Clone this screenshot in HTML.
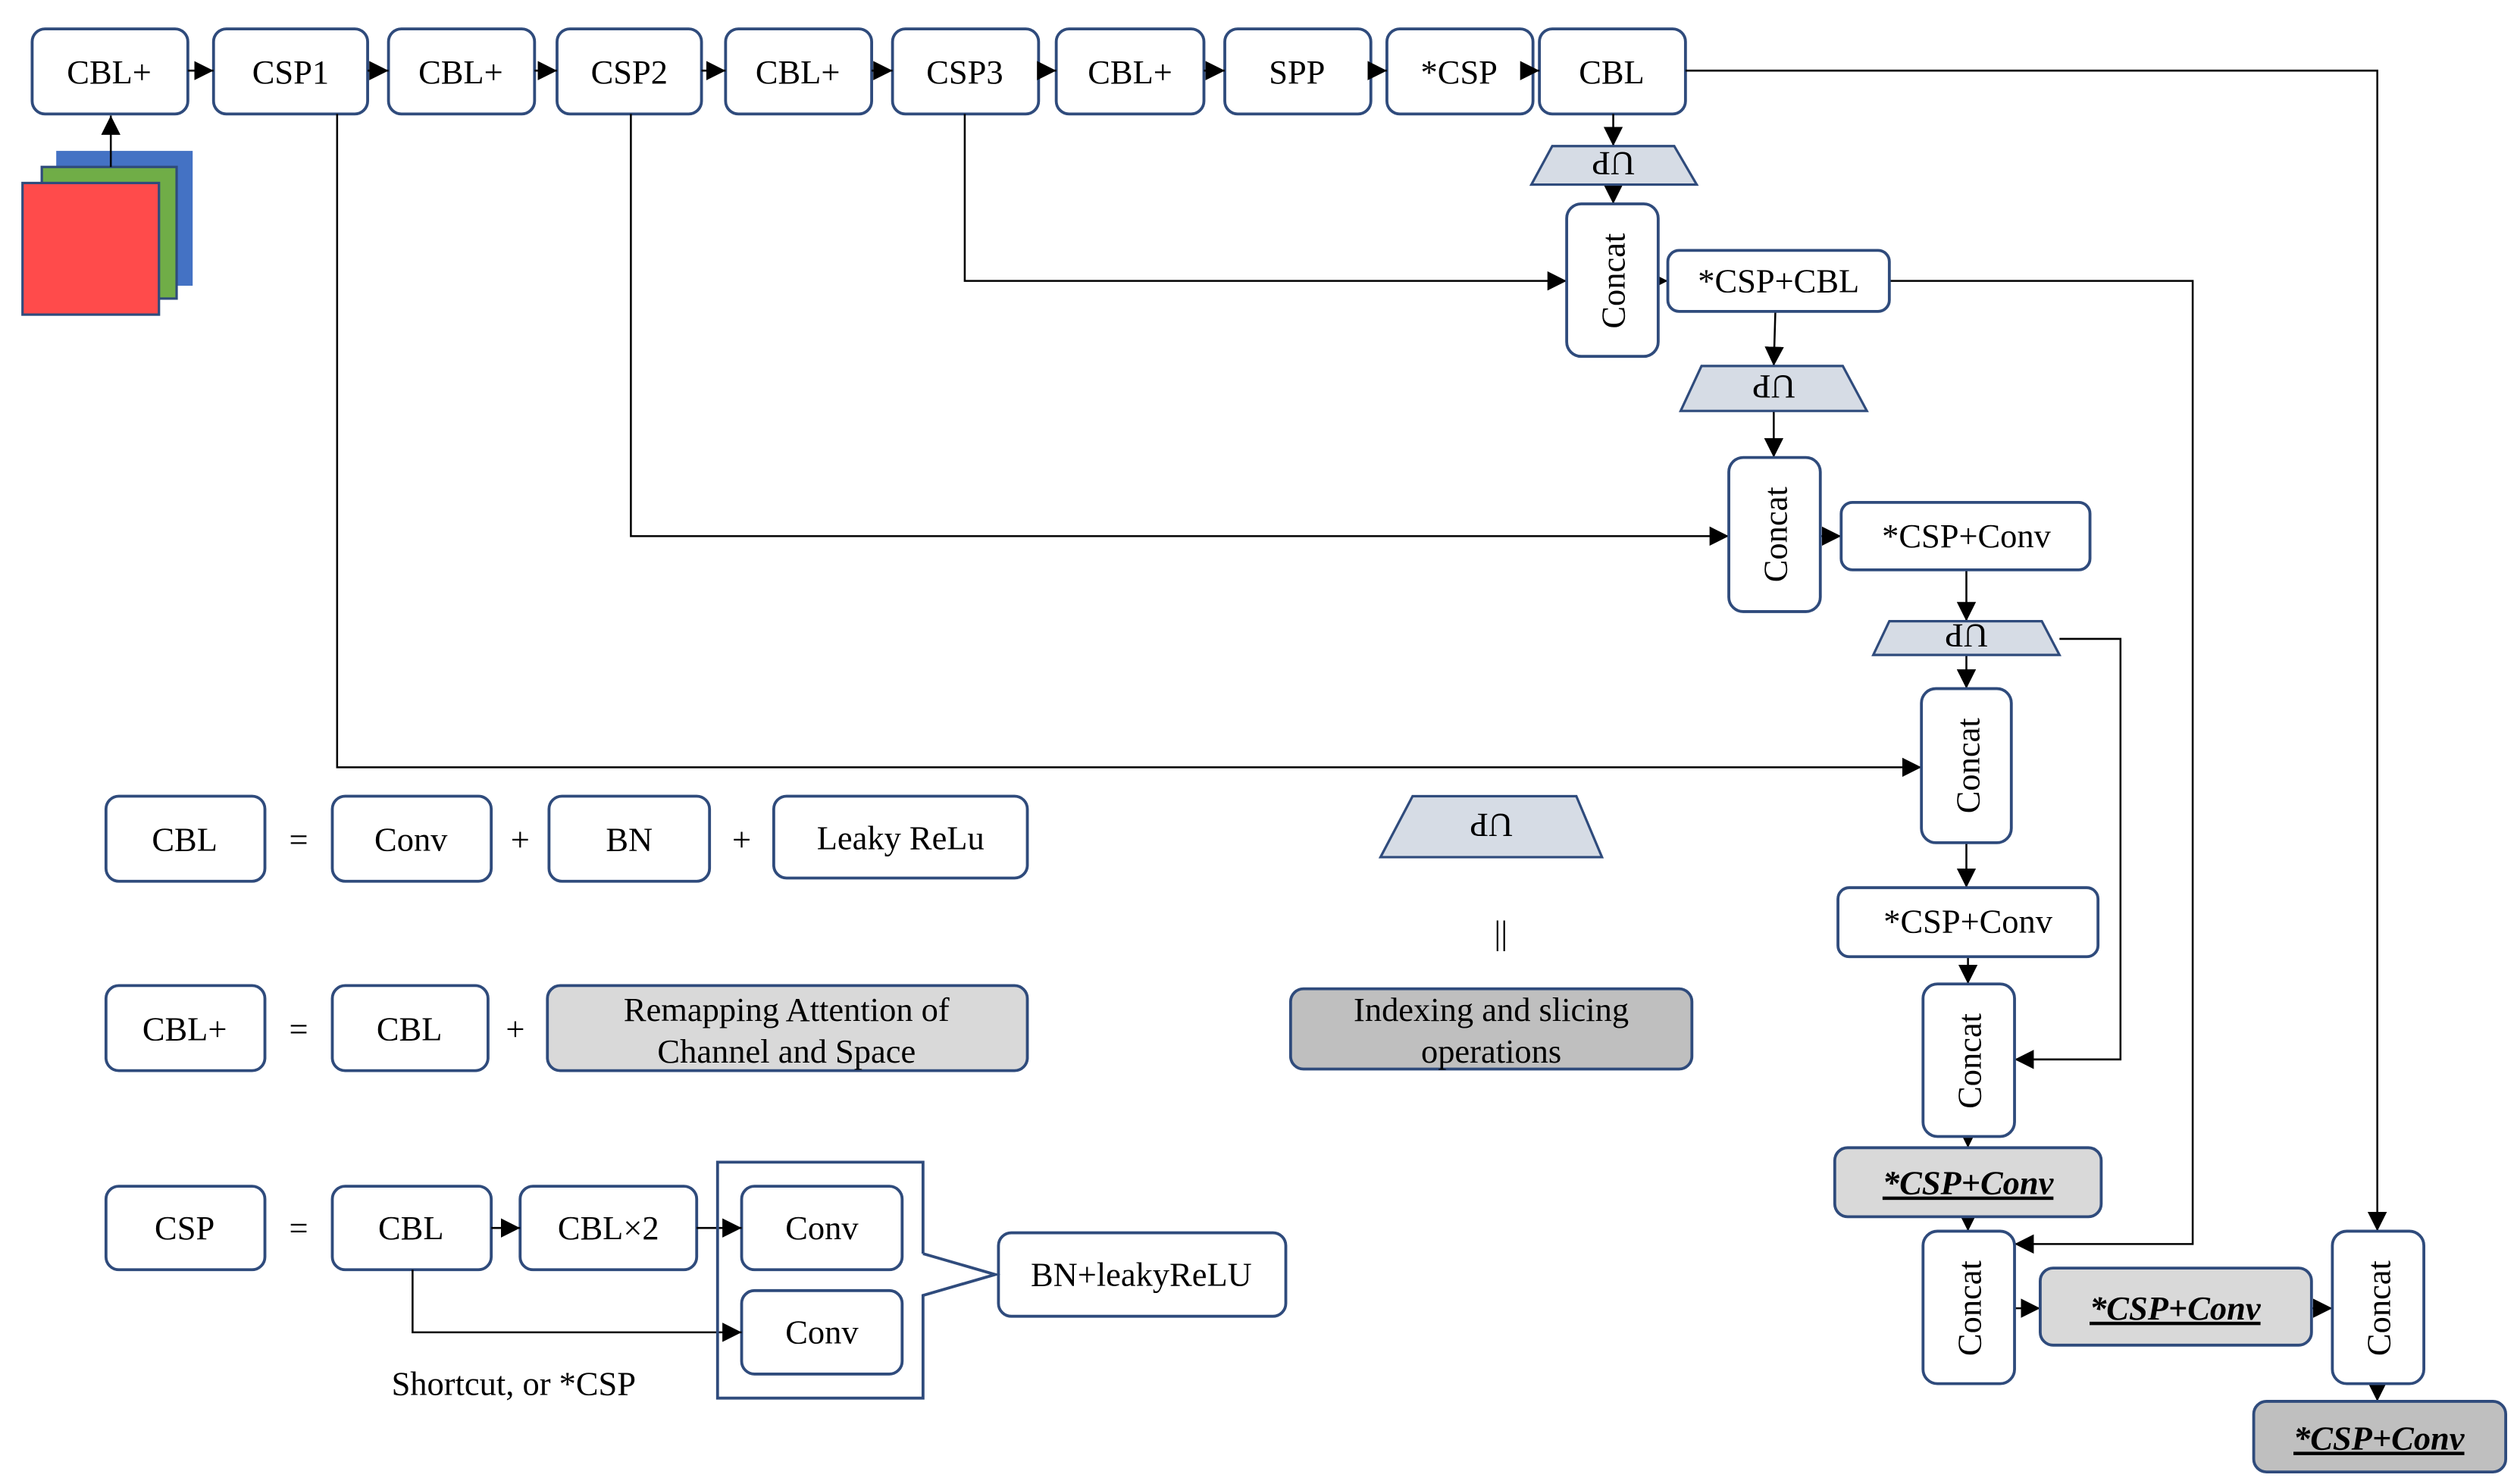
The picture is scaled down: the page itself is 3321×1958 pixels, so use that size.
<!DOCTYPE html>
<html><head><meta charset="utf-8"><style>
html,body{margin:0;padding:0;background:#fff}
svg{display:block}
text{font-family:"Liberation Serif",serif;font-size:21px;fill:#000}
.b{fill:#fff;stroke:#2F4B7C;stroke-width:1.8}
.g{fill:#d9d9d9;stroke:#2F4B7C;stroke-width:1.8}
.g2{fill:#bfbfbf;stroke:#2F4B7C;stroke-width:1.8}
.t{fill:#d6dce5;stroke:#2F4B7C;stroke-width:1.5}
.l{fill:none;stroke:#000;stroke-width:1.2}
.bi{font-weight:bold;font-style:italic;text-decoration:underline}
</style></head><body>
<svg width="3321" height="1958" viewBox="0 0 1568 924.5" xmlns="http://www.w3.org/2000/svg">
<defs><marker id="a" viewBox="0 0 10 10" refX="10" refY="5" markerWidth="12" markerHeight="12" markerUnits="userSpaceOnUse" orient="auto"><path d="M0,0L10,5L0,10z" fill="#000"/></marker></defs>

<rect x="35" y="94" width="85" height="84" fill="#4472C4"/>
<rect x="26" y="104" width="84" height="82" fill="#70AD47" stroke="#2F4B7C" stroke-width="1.5"/>
<rect x="14" y="114" width="85" height="82" fill="#FF4B4B" stroke="#2F4B7C" stroke-width="1.5"/>
<line class="l" x1="69" y1="104" x2="69" y2="72" marker-end="url(#a)"/>

<g text-anchor="middle">
<rect class="b" x="20" y="18" width="97" height="53" rx="8"/><text x="68" y="52">CBL+</text>
<rect class="b" x="133" y="18" width="96" height="53" rx="8"/><text x="181" y="52">CSP1</text>
<rect class="b" x="242" y="18" width="91" height="53" rx="8"/><text x="287" y="52">CBL+</text>
<rect class="b" x="347" y="18" width="90" height="53" rx="8"/><text x="392" y="52">CSP2</text>
<rect class="b" x="452" y="18" width="91" height="53" rx="8"/><text x="497" y="52">CBL+</text>
<rect class="b" x="556" y="18" width="91" height="53" rx="8"/><text x="601" y="52">CSP3</text>
<rect class="b" x="658" y="18" width="92" height="53" rx="8"/><text x="704" y="52">CBL+</text>
<rect class="b" x="763" y="18" width="91" height="53" rx="8"/><text x="808" y="52">SPP</text>
<rect class="b" x="864" y="18" width="91" height="53" rx="8"/><text x="909" y="52">*CSP</text>
<rect class="b" x="959" y="18" width="91" height="53" rx="8"/><text x="1004" y="52">CBL</text>
</g>
<g class="l">
<line x1="117" y1="44" x2="133" y2="44" marker-end="url(#a)"/>
<line x1="229" y1="44" x2="242" y2="44" marker-end="url(#a)"/>
<line x1="333" y1="44" x2="347" y2="44" marker-end="url(#a)"/>
<line x1="437" y1="44" x2="452" y2="44" marker-end="url(#a)"/>
<line x1="543" y1="44" x2="556" y2="44" marker-end="url(#a)"/>
<line x1="647" y1="44" x2="658" y2="44" marker-end="url(#a)"/>
<line x1="750" y1="44" x2="763" y2="44" marker-end="url(#a)"/>
<line x1="854" y1="44" x2="864" y2="44" marker-end="url(#a)"/>
<line x1="955" y1="44" x2="959" y2="44" marker-end="url(#a)"/>
<polyline points="1050,44 1481,44 1481,767" marker-end="url(#a)"/>
<line x1="1005" y1="71" x2="1005" y2="91" marker-end="url(#a)"/>
<line x1="1005" y1="115" x2="1005" y2="127" marker-end="url(#a)"/>
<polyline points="601,71 601,175 976,175" marker-end="url(#a)"/>
<line x1="1031" y1="175" x2="1039" y2="175" marker-end="url(#a)"/>
<line x1="1106" y1="194" x2="1105" y2="228" marker-end="url(#a)"/>
<line x1="1105" y1="256" x2="1105" y2="285" marker-end="url(#a)"/>
<polyline points="393,71 393,334 1077,334" marker-end="url(#a)"/>
<line x1="1134" y1="334" x2="1147" y2="334" marker-end="url(#a)"/>
<line x1="1225" y1="355" x2="1225" y2="387" marker-end="url(#a)"/>
<polyline points="1283,398 1321,398 1321,660 1255,660" marker-end="url(#a)"/>
<line x1="1225" y1="408" x2="1225" y2="429" marker-end="url(#a)"/>
<polyline points="210,71 210,478 1197,478" marker-end="url(#a)"/>
<line x1="1225" y1="525" x2="1225" y2="553" marker-end="url(#a)"/>
<line x1="1226" y1="596" x2="1226" y2="613" marker-end="url(#a)"/>
<line x1="1226" y1="706" x2="1226" y2="715" marker-end="url(#a)"/>
<line x1="1226" y1="758" x2="1226" y2="767" marker-end="url(#a)"/>
<polyline points="1177,175 1366,175 1366,775 1255,775" marker-end="url(#a)"/>
<line x1="1255" y1="815" x2="1271" y2="815" marker-end="url(#a)"/>
<line x1="1440" y1="815" x2="1453" y2="815" marker-end="url(#a)"/>
<line x1="1481" y1="862" x2="1481" y2="873" marker-end="url(#a)"/>
</g>

<polygon class="t" points="967,91 1043,91 1057,115 954,115"/>
<text transform="translate(1005,103) rotate(180)" text-anchor="middle" dy="8" font-size="20">UP</text>
<polygon class="t" points="1060,228 1148,228 1163,256 1047,256"/>
<text transform="translate(1105,242) rotate(180)" text-anchor="middle" dy="8" font-size="20">UP</text>
<polygon class="t" points="1177,387 1272,387 1283,408 1167,408"/>
<text transform="translate(1225,397) rotate(180)" text-anchor="middle" dy="8" font-size="20">UP</text>
<polygon class="t" points="880,496 982,496 998,534 860,534"/>
<text transform="translate(929,515) rotate(180)" text-anchor="middle" dy="8" font-size="21">UP</text>
<text x="935" y="588" text-anchor="middle" font-size="24">||</text>

<rect class="b" x="976" y="127" width="57" height="95" rx="9"/>
<text transform="translate(1012,175) rotate(-90)" text-anchor="middle">Concat</text>
<rect class="b" x="1077" y="285" width="57" height="96" rx="9"/>
<text transform="translate(1113,333) rotate(-90)" text-anchor="middle">Concat</text>
<rect class="b" x="1197" y="429" width="56" height="96" rx="9"/>
<text transform="translate(1233,477) rotate(-90)" text-anchor="middle">Concat</text>
<rect class="b" x="1198" y="613" width="57" height="95" rx="9"/>
<text transform="translate(1234,661) rotate(-90)" text-anchor="middle">Concat</text>
<rect class="b" x="1198" y="767" width="57" height="95" rx="9"/>
<text transform="translate(1234,815) rotate(-90)" text-anchor="middle">Concat</text>
<rect class="b" x="1453" y="767" width="57" height="95" rx="9"/>
<text transform="translate(1489,815) rotate(-90)" text-anchor="middle">Concat</text>

<g text-anchor="middle">
<rect class="b" x="1039" y="156" width="138" height="38" rx="7"/><text x="1108" y="182">*CSP+CBL</text>
<rect class="b" x="1147" y="313" width="155" height="42" rx="7"/><text x="1225" y="341">*CSP+Conv</text>
<rect class="b" x="1145" y="553" width="162" height="43" rx="7"/><text x="1226" y="581">*CSP+Conv</text>
<rect class="g" x="1143" y="715" width="166" height="43" rx="8"/><text class="bi" x="1226" y="744">*CSP+Conv</text>
<rect class="g" x="1271" y="790" width="169" height="48" rx="8"/><text class="bi" x="1355" y="822">*CSP+Conv</text>
<rect class="g2" x="1404" y="873" width="157" height="44" rx="8"/><text class="bi" x="1482" y="903">*CSP+Conv</text>

<rect class="b" x="66" y="496" width="99" height="53" rx="8"/><text x="115" y="530">CBL</text>
<text x="186" y="530">=</text>
<rect class="b" x="207" y="496" width="99" height="53" rx="8"/><text x="256" y="530">Conv</text>
<text x="324" y="530">+</text>
<rect class="b" x="342" y="496" width="100" height="53" rx="8"/><text x="392" y="530">BN</text>
<text x="462" y="530">+</text>
<rect class="b" x="482" y="496" width="158" height="51" rx="8"/><text x="561" y="529">Leaky ReLu</text>

<rect class="b" x="66" y="614" width="99" height="53" rx="8"/><text x="115" y="648">CBL+</text>
<text x="186" y="648">=</text>
<rect class="b" x="207" y="614" width="97" height="53" rx="8"/><text x="255" y="648">CBL</text>
<text x="321" y="648">+</text>
<rect class="g" x="341" y="614" width="299" height="53" rx="8"/>
<text x="490" y="636">Remapping Attention of</text><text x="490" y="662">Channel and Space</text>

<rect class="g2" x="804" y="616" width="250" height="50" rx="8"/>
<text x="929" y="636">Indexing and slicing</text><text x="929" y="662">operations</text>

<rect class="b" x="66" y="739" width="99" height="52" rx="8"/><text x="115" y="772">CSP</text>
<text x="186" y="772">=</text>
<rect class="b" x="207" y="739" width="99" height="52" rx="8"/><text x="256" y="772">CBL</text>
<rect class="b" x="324" y="739" width="110" height="52" rx="8"/><text x="379" y="772">CBL×2</text>
<rect class="b" x="462" y="739" width="100" height="52" rx="8"/><text x="512" y="772">Conv</text>
<rect class="b" x="462" y="804" width="100" height="52" rx="8"/><text x="512" y="837">Conv</text>
<rect class="b" x="622" y="768" width="179" height="52" rx="8"/><text x="711" y="801">BN+leakyReLU</text>
<text x="320" y="869">Shortcut, or  *CSP</text>
</g>
<g class="l">
<line x1="306" y1="765" x2="324" y2="765" marker-end="url(#a)"/>
<line x1="434" y1="765" x2="462" y2="765" marker-end="url(#a)"/>
<polyline points="257,791 257,830 462,830" marker-end="url(#a)"/>
</g>
<polyline points="575,781 575,724 447,724 447,871 575,871 575,807 620,794 575,781" fill="none" stroke="#2F4B7C" stroke-width="1.8"/>
</svg>
</body></html>
